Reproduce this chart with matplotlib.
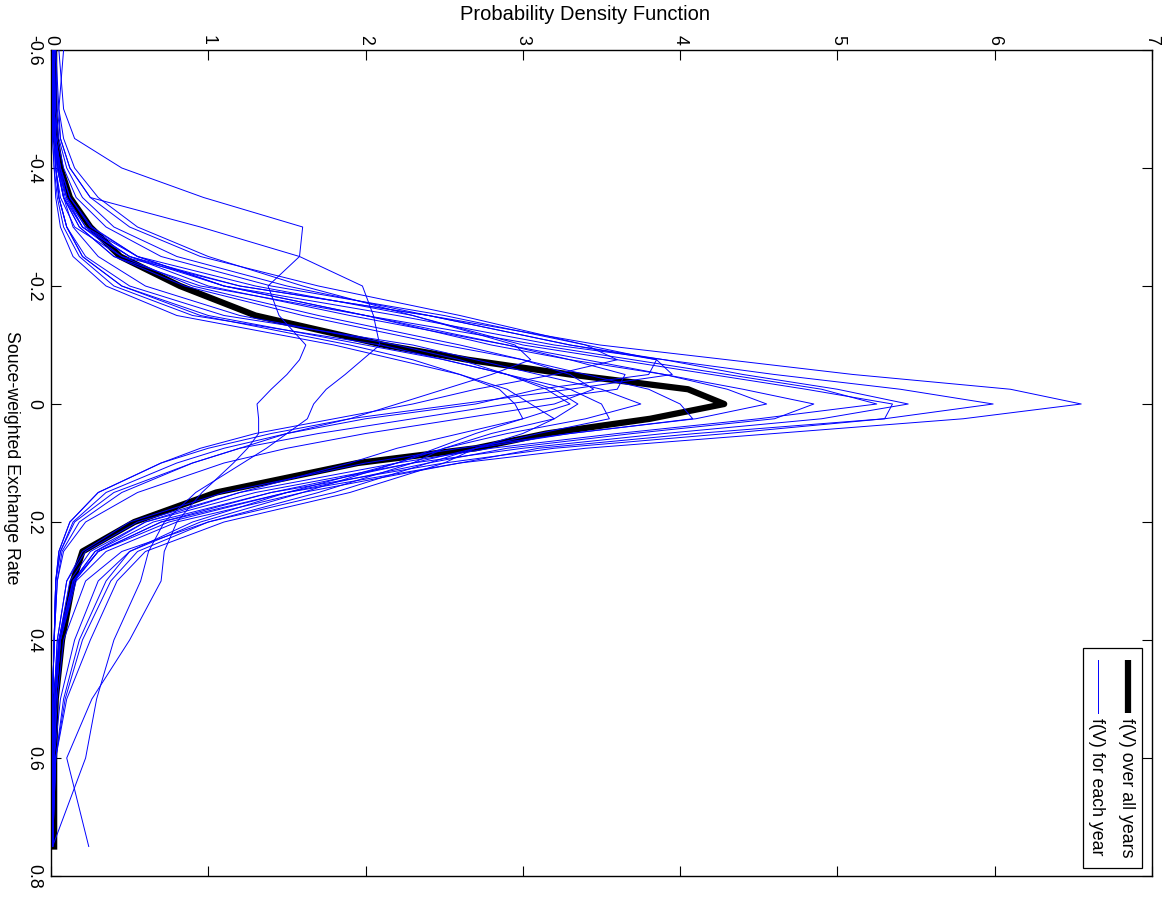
"""Rotated probability-density plot of the source-weighted exchange rate.

The original figure was printed rotated by 90 degrees, so the rate runs
downwards on the vertical axis and the density runs along the top.
"""
import matplotlib

matplotlib.use("Agg")
import matplotlib.pyplot as plt
from matplotlib.patches import Rectangle

plt.rcParams["font.family"] = ["Liberation Sans", "DejaVu Sans"]

# exchange-rate grid the curves were read at
rate = [-0.6, -0.5, -0.45, -0.4, -0.35, -0.3, -0.25, -0.2, -0.15, -0.1, -0.075, -0.05, -0.025,
        0.0, 0.025, 0.05, 0.075, 0.1, 0.15, 0.2, 0.25, 0.3, 0.4, 0.5, 0.6, 0.75]

# f(V) over all years
all_years = [0.02, 0.02, 0.03, 0.06, 0.12, 0.25, 0.44, 0.82, 1.3, 2.12, 2.65, 3.3, 4.05,
             4.28, 3.81, 3.15, 2.7, 1.95, 1.05, 0.53, 0.2, 0.14, 0.07, 0.03, 0.02, 0.02]

# f(V) for each year
year_01 = [0.01, 0.01, 0.02, 0.03, 0.06, 0.15, 0.45, 1.2, 2.4, 3.49, 4.3, 5.1, 6.1,
           6.55, 5.8, 4.6, 3.4, 2.6, 1.5, 0.7, 0.3, 0.15, 0.06, 0.03, 0.02, 0.01]
year_02 = [0.01, 0.02, 0.02, 0.04, 0.08, 0.2, 0.5, 1.1, 2.2, 3.2, 3.9, 4.6, 5.4,
           5.99, 5.3, 4.3, 3.2, 2.5, 1.4, 0.65, 0.28, 0.14, 0.05, 0.03, 0.02, 0.01]
year_03 = [0.02, 0.02, 0.03, 0.05, 0.1, 0.22, 0.55, 1.3, 2.3, 3.0, 3.6, 4.2, 4.8,
           5.35, 5.3, 4.1, 3.1, 2.6, 1.6, 0.8, 0.35, 0.16, 0.06, 0.03, 0.02, 0.01]
year_04 = [0.01, 0.02, 0.03, 0.05, 0.09, 0.2, 0.5, 1.2, 2.4, 3.3, 3.9, 4.4, 5.0,
           5.45, 4.9, 3.9, 3.0, 2.3, 1.3, 0.6, 0.25, 0.12, 0.05, 0.02, 0.01, 0.01]
year_05 = [0.02, 0.02, 0.03, 0.04, 0.08, 0.18, 0.4, 0.95, 2.0, 3.1, 3.7, 4.3, 4.9,
           5.25, 4.5, 3.6, 2.8, 2.2, 1.2, 0.55, 0.22, 0.1, 0.04, 0.02, 0.01, 0.01]
year_06 = [0.01, 0.02, 0.03, 0.06, 0.12, 0.25, 0.55, 1.1, 2.0, 2.8, 3.3, 3.9, 4.4,
           4.85, 4.6, 3.7, 2.9, 2.4, 1.5, 0.75, 0.3, 0.15, 0.06, 0.03, 0.02, 0.01]
year_07 = [0.02, 0.02, 0.03, 0.05, 0.1, 0.22, 0.5, 1.0, 1.9, 2.9, 3.4, 3.9, 4.3,
           4.55, 4.1, 3.3, 2.6, 2.0, 1.1, 0.5, 0.2, 0.1, 0.04, 0.02, 0.01, 0.01]
year_08 = [0.01, 0.01, 0.02, 0.04, 0.08, 0.18, 0.4, 0.85, 1.6, 2.5, 3.0, 3.4, 3.8,
           4.0, 4.08, 3.3, 2.7, 2.3, 1.4, 0.7, 0.3, 0.14, 0.05, 0.02, 0.01, 0.01]
year_09 = [0.02, 0.03, 0.04, 0.08, 0.16, 0.35, 0.7, 1.4, 2.5, 3.4, 3.85, 3.95, 3.3,
           2.6, 1.9, 1.4, 1.0, 0.7, 0.3, 0.12, 0.05, 0.03, 0.02, 0.01, 0.01, 0.01]
year_10 = [0.02, 0.03, 0.05, 0.1, 0.2, 0.4, 0.8, 1.5, 2.4, 3.3, 3.85, 3.8, 3.1,
           2.7, 2.0, 1.5, 1.1, 0.8, 0.35, 0.14, 0.06, 0.03, 0.02, 0.01, 0.01, 0.01]
year_11 = [0.01, 0.02, 0.03, 0.06, 0.12, 0.26, 0.55, 1.1, 2.0, 2.9, 3.3, 3.65, 3.6,
           2.9, 2.3, 1.7, 1.2, 0.9, 0.4, 0.15, 0.06, 0.03, 0.02, 0.01, 0.01, 0.01]
year_12 = [0.03, 0.04, 0.06, 0.12, 0.25, 0.5, 0.95, 1.7, 2.6, 3.4, 3.6, 3.2, 2.7,
           2.3, 1.8, 1.3, 0.95, 0.7, 0.3, 0.12, 0.05, 0.03, 0.02, 0.01, 0.01, 0.01]
year_13 = [0.03, 0.05, 0.08, 0.15, 0.3, 0.55, 1.0, 1.6, 2.3, 2.95, 3.05, 2.8, 2.5,
           2.2, 1.9, 1.5, 1.2, 0.9, 0.45, 0.18, 0.07, 0.04, 0.02, 0.01, 0.01, 0.01]
year_14 = [0.01, 0.01, 0.02, 0.03, 0.05, 0.1, 0.22, 0.5, 1.1, 2.3, 2.7, 3.1, 3.5,
           3.75, 3.4, 2.9, 2.5, 2.2, 1.5, 0.9, 0.5, 0.35, 0.18, 0.08, 0.03, 0.01]
year_15 = [0.01, 0.01, 0.01, 0.02, 0.04, 0.08, 0.18, 0.4, 0.9, 2.1, 2.5, 2.9, 3.3,
           3.5, 3.55, 3.1, 2.7, 2.4, 1.8, 1.0, 0.45, 0.22, 0.08, 0.04, 0.02, 0.01]
year_16 = [0.01, 0.01, 0.02, 0.03, 0.05, 0.1, 0.2, 0.45, 1.0, 2.0, 2.5, 2.9, 3.2,
           3.35, 3.2, 2.8, 2.5, 2.3, 1.7, 1.0, 0.55, 0.38, 0.2, 0.09, 0.03, 0.01]
year_17 = [0.02, 0.02, 0.03, 0.05, 0.08, 0.14, 0.3, 0.6, 1.2, 2.2, 2.6, 2.9, 3.15,
           3.3, 3.0, 2.6, 2.2, 1.9, 1.2, 0.6, 0.28, 0.14, 0.06, 0.03, 0.02, 0.01]
year_18 = [0.01, 0.01, 0.01, 0.02, 0.03, 0.06, 0.14, 0.35, 0.8, 1.8, 2.2, 2.6, 2.9,
           3.05, 3.2, 3.0, 2.7, 2.5, 1.9, 1.1, 0.6, 0.42, 0.25, 0.1, 0.03, 0.01]
year_19 = [0.01, 0.01, 0.02, 0.03, 0.05, 0.1, 0.2, 0.45, 0.95, 1.9, 2.3, 2.6, 2.85,
           2.95, 3.0, 2.7, 2.45, 2.2, 1.6, 0.95, 0.5, 0.3, 0.15, 0.06, 0.02, 0.01]
year_20 = [0.05, 0.08, 0.15, 0.45, 0.97, 1.6, 1.58, 1.38, 1.45, 1.62, 1.58, 1.5, 1.4,
           1.31, 1.32, 1.32, 1.25, 1.16, 0.96, 0.8, 0.72, 0.7, 0.5, 0.26, 0.1, 0.24]
year_21 = [0.08, 0.05, 0.06, 0.12, 0.25, 0.95, 1.58, 1.98, 2.05, 2.09, 1.98, 1.87, 1.75,
           1.67, 1.63, 1.5, 1.37, 1.22, 0.92, 0.72, 0.62, 0.57, 0.4, 0.29, 0.22, 0.01]
year_22 = [0.02, 0.02, 0.03, 0.06, 0.1, 0.2, 0.45, 0.9, 1.7, 2.6, 3.0, 3.3, 3.45,
           3.2, 2.6, 2.0, 1.5, 1.1, 0.55, 0.22, 0.08, 0.04, 0.02, 0.01, 0.01, 0.01]

each_year = [year_01, year_02, year_03, year_04, year_05, year_06, year_07, year_08,
             year_09, year_10, year_11, year_12, year_13, year_14, year_15, year_16,
             year_17, year_18, year_19, year_20, year_21, year_22]

density_ticks = [0, 1, 2, 3, 4, 5, 6, 7]
rate_ticks = [-0.6, -0.4, -0.2, 0, 0.2, 0.4, 0.6, 0.8]
rate_tick_labels = ["-0.6", "-0.4", "-0.2", "0", "0.2", "0.4", "0.6", "0.8"]

legend_labels = ["f(V) over all years", "f(V) for each year"]
BLUE = "#0000ff"
FONT_SIZE = 12.8
TITLE_SIZE = 14.5


def _draw_legend(ax) -> None:
    """Legend drawn by hand, since its text is rotated with the plot."""
    ax.add_patch(Rectangle((0.9373, 0.0097), 0.0536, 0.2663, transform=ax.transAxes,
                           facecolor="white", edgecolor="black", linewidth=0.9, zorder=5))
    ax.plot([0.978, 0.978], [0.197, 0.2615], transform=ax.transAxes,
            color="black", linewidth=4.5, solid_capstyle="butt", zorder=6)
    ax.plot([0.951, 0.951], [0.197, 0.2615], transform=ax.transAxes,
            color=BLUE, linewidth=0.7, zorder=6)
    for x, label in zip([0.977, 0.950], legend_labels):
        ax.text(x, 0.191, label, transform=ax.transAxes, rotation=270,
                ha="center", va="top", fontsize=FONT_SIZE, zorder=6)


def main() -> None:
    for curve in each_year:
        assert len(curve) == len(rate)
    assert len(all_years) == len(rate)

    fig = plt.figure(figsize=(11.76, 8.98), dpi=100)
    ax = fig.add_axes([51 / 1176, 1 - 876 / 898, 1101 / 1176, 826 / 898])

    ax.plot(all_years, rate, color="black", linewidth=4.5,
            solid_joinstyle="round", zorder=2)
    for curve in each_year:
        ax.plot(curve, rate, color=BLUE, linewidth=0.7, zorder=3)

    ax.set_xlim(0, 7)
    ax.set_ylim(0.8, -0.6)
    ax.set_xticks(density_ticks)
    ax.set_xticklabels([str(v) for v in density_ticks])
    ax.set_yticks(rate_ticks)
    ax.set_yticklabels(rate_tick_labels)

    ax.xaxis.tick_top()
    ax.tick_params(axis="both", which="both", direction="in", length=7, width=0.8,
                   top=True, bottom=True, left=True, right=True, labelsize=FONT_SIZE)
    ax.tick_params(axis="x", labeltop=True, labelbottom=False, labelrotation=270, pad=3.5)
    ax.tick_params(axis="y", labelleft=True, labelright=False, labelrotation=270, pad=6.5)
    for label in ax.get_yticklabels():
        label.set_verticalalignment("center")
    for spine in ax.spines.values():
        spine.set_linewidth(1.0)

    fig.text(585 / 1176, 1 - 14 / 898, "Probability Density Function",
             ha="center", va="center", fontsize=TITLE_SIZE)
    fig.text(11 / 1176, 1 - 458 / 898, "Souce-weighted Exchange Rate",
             rotation=270, ha="center", va="center", fontsize=FONT_SIZE)

    _draw_legend(ax)

    fig.savefig("out.png", dpi=100, facecolor="white")
    plt.close(fig)


if __name__ == "__main__":
    main()
